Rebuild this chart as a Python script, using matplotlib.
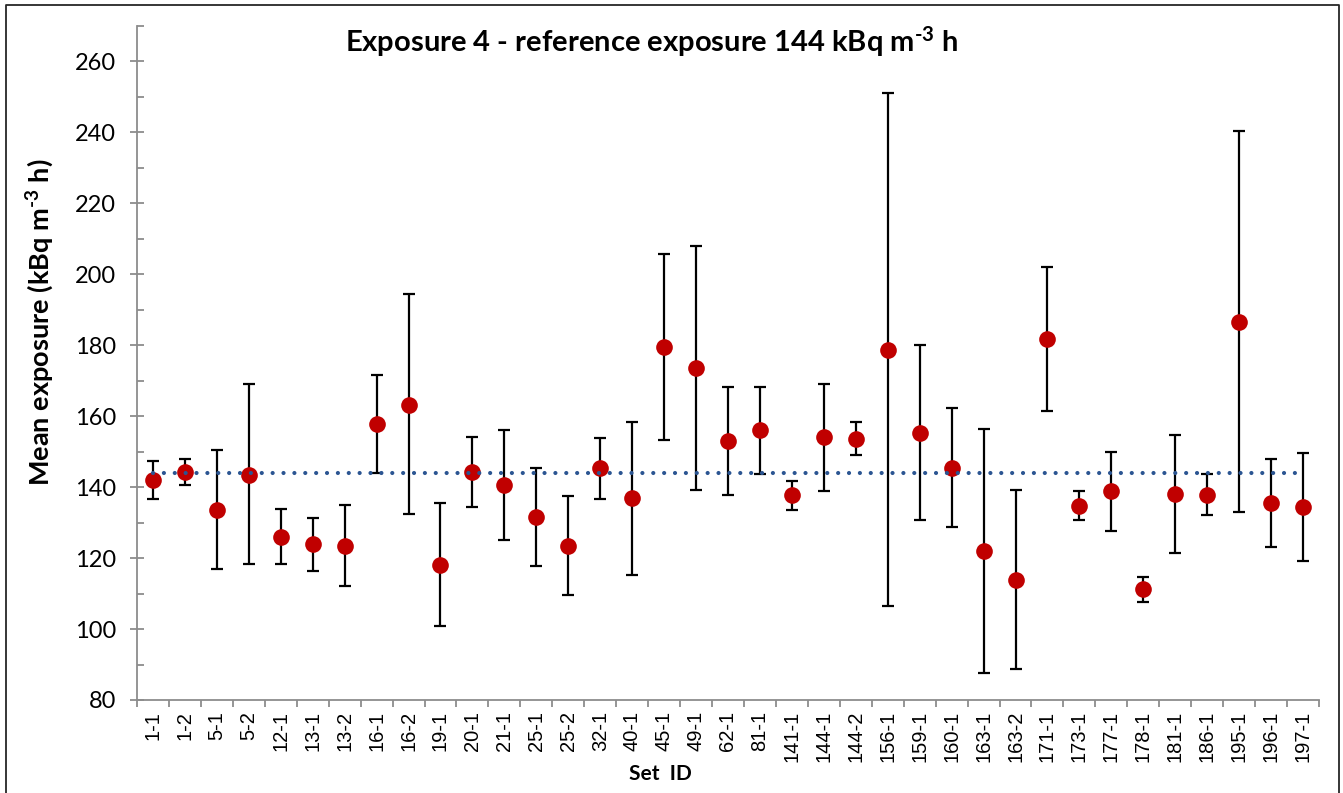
import matplotlib
matplotlib.use("Agg")
import numpy as np
from matplotlib import pyplot as plt
from matplotlib.lines import Line2D

plt.rcParams['font.family'] = ['Lato', 'DejaVu Sans']
plt.rcParams['mathtext.fontset'] = 'custom'
plt.rcParams['mathtext.rm'] = 'Lato:bold'
plt.rcParams['mathtext.bf'] = 'Lato:bold'
plt.rcParams['mathtext.default'] = 'bf'

set_ids = ['1-1', '1-2', '5-1', '5-2', '12-1', '13-1', '13-2', '16-1', '16-2',
           '19-1', '20-1', '21-1', '25-1', '25-2', '32-1', '40-1', '45-1',
           '49-1', '62-1', '81-1', '141-1', '144-1', '144-2', '156-1', '159-1',
           '160-1', '163-1', '163-2', '171-1', '173-1', '177-1', '178-1',
           '181-1', '186-1', '195-1', '196-1', '197-1']

mean_exposure = [142.0, 144.2, 133.7, 143.5, 126.0, 123.9, 123.5, 157.8, 163.2,
                 118.0, 144.2, 140.7, 131.5, 123.5, 145.4, 136.9, 179.4,
                 173.6, 153.0, 156.0, 137.7, 154.0, 153.7, 178.8, 155.3,
                 145.5, 122.1, 113.9, 181.7, 134.6, 138.9, 111.2,
                 138.0, 137.8, 186.6, 135.4, 134.5]

upper = [147.5, 147.8, 150.6, 169.1, 133.8, 131.2, 135.0, 171.6, 194.4,
         135.4, 154.0, 156.1, 145.4, 137.4, 153.8, 158.4, 205.6,
         208.0, 168.2, 168.3, 141.6, 169.2, 158.5, 251.1, 180.0,
         162.2, 156.4, 139.3, 202.0, 138.9, 149.9, 114.7,
         154.8, 143.6, 240.3, 147.9, 149.7]

lower = [136.6, 140.6, 117.0, 118.2, 118.3, 116.5, 112.1, 144.0, 132.3,
         100.8, 134.5, 125.1, 117.7, 109.6, 136.6, 115.3, 153.3,
         139.2, 137.7, 143.6, 133.6, 138.8, 149.1, 106.5, 130.7,
         128.8, 87.6, 88.7, 161.4, 130.8, 127.7, 107.7,
         121.3, 132.1, 133.0, 123.2, 119.3]

reference = 144

x = np.arange(1, len(set_ids) + 1)
mean_arr = np.array(mean_exposure)
yerr = [mean_arr - np.array(lower), np.array(upper) - mean_arr]

fig = plt.figure(figsize=(13.43, 7.93), dpi=100)
ax = fig.add_axes([137 / 1343, 1 - 700 / 793, 1182 / 1343, 674 / 793])

# whiskers first, then the red points on top
ax.errorbar(x, mean_arr, yerr=yerr, fmt='none', ecolor='black', elinewidth=1.6,
            capsize=4.5, capthick=1.6, zorder=2)
ax.plot(x, mean_arr, 'o', color='#C00000', markersize=12, markeredgewidth=0, zorder=3)

# reference exposure as a dotted line over the points
ax.plot([x[0], x[-1]], [reference, reference], color='#2B5592', linewidth=3,
        linestyle=(0, (0.01, 2.6)), dash_capstyle='round', zorder=4)

ax.set_xlim(0.5, len(set_ids) + 0.5)
ax.set_ylim(80, 270)
ax.set_yticks(np.arange(80, 261, 20))
ax.set_yticks(np.arange(90, 271, 20), minor=True)
ax.set_xticks(x)
ax.set_xticklabels(set_ids)
ax.set_xticks(np.arange(0.5, len(set_ids) + 1, 1), minor=True)

for side in ['top', 'right']:
    ax.spines[side].set_visible(False)
for side in ['left', 'bottom']:
    ax.spines[side].set_color('#8C8C8C')
    ax.spines[side].set_linewidth(1.3)

ax.tick_params(axis='y', which='major', direction='inout', length=10, width=1.3,
               color='#8C8C8C', labelsize=17, pad=10)
ax.tick_params(axis='y', which='minor', direction='in', length=5, width=1.3,
               color='#8C8C8C')
ax.tick_params(axis='x', which='major', length=0, pad=8, labelrotation=90,
               labelsize=14.5, labelfontfamily='Liberation Sans')
ax.tick_params(axis='x', which='minor', direction='out', length=5, width=1.3,
               color='#8C8C8C')

fig.text(652 / 1343, 1 - 42 / 793, r'Exposure 4 - reference exposure 144 kBq m$^{\text{-3}}$ h',
         ha='center', va='center', fontsize=21, fontweight='bold')
fig.text(40 / 1343, 1 - 322 / 793, r'Mean exposure (kBq m$^{\text{-3}}$ h)', rotation=90,
         ha='center', va='center', fontsize=19.5, fontweight='bold')
fig.text(660 / 1343, 1 - 774 / 793, 'Set  ID', ha='center', va='center',
         fontsize=15, fontweight='bold')

# outer frame round the chart
fx = [6 / 1343, 6 / 1343, 1339 / 1343, 1339 / 1343]
fy = [-0.02, 1 - 5 / 793, 1 - 5 / 793, -0.02]
fig.add_artist(Line2D(fx, fy, transform=fig.transFigure, color='#262626', linewidth=1.3))

fig.savefig('out.png', dpi=100)
